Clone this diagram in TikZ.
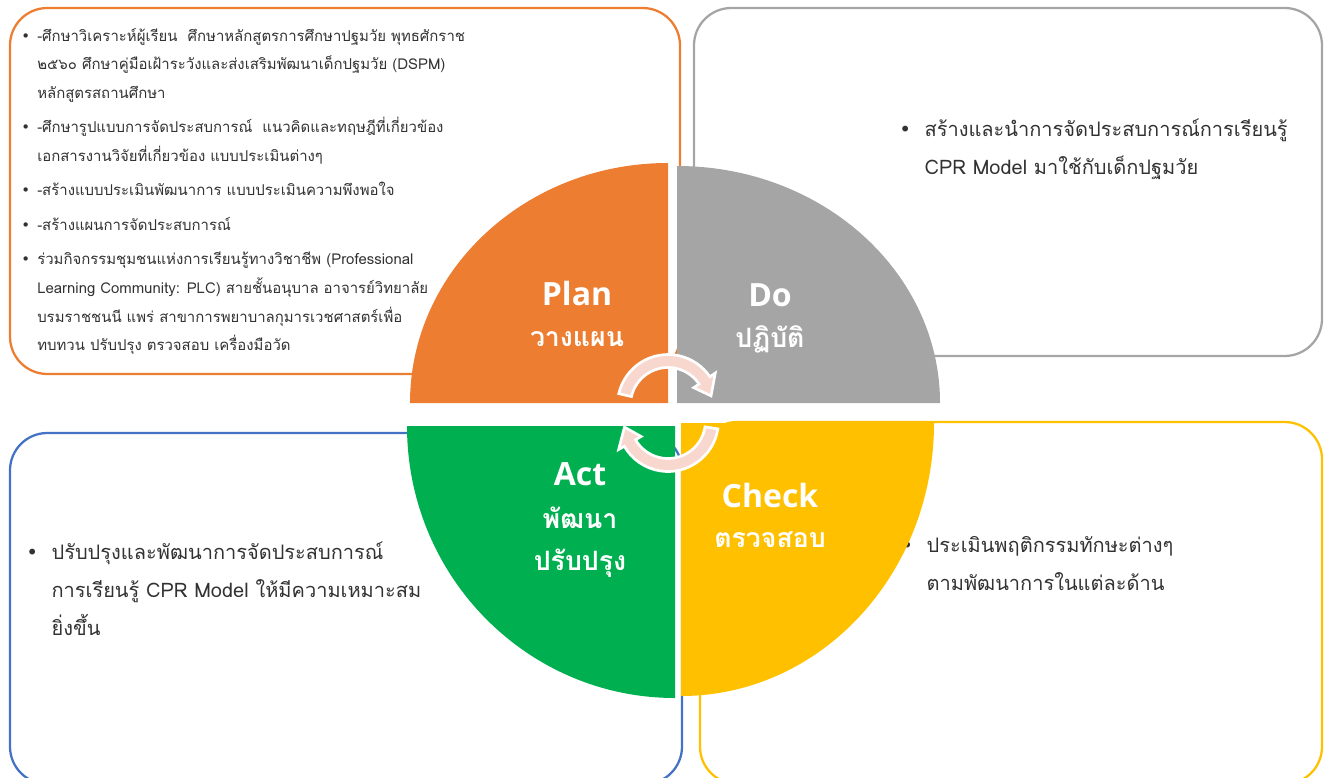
\documentclass[tikz,border=0pt]{standalone}
\usepackage{fontspec}
\usetikzlibrary{calc}
\setmainfont[Script=Thai]{Loma}
\newfontfamily\thaifont[Script=Thai]{Loma}
\newfontfamily\latlab{Open Sans}
\newfontfamily\bulfont{DejaVu Sans}
\definecolor{plancol}{RGB}{237,125,49}
\definecolor{docol}{RGB}{165,165,165}
\definecolor{actcol}{RGB}{0,176,80}
\definecolor{chkcol}{RGB}{255,192,0}
\definecolor{bluecol}{RGB}{68,114,196}
\definecolor{txtcol}{RGB}{50,50,50}
\definecolor{arrowpink}{RGB}{248,216,206}
\newcommand\blt{{\bulfont\char"2022}}
\newcommand\bcol[1]{\makebox[#1][l]{\blt}}
\tikzset{
  box/.style={line width=1.7pt, rounded corners=28pt},
  listtext/.style={anchor=north west, inner sep=0pt, text=txtcol},
  enlab/.style={text=white, font=\latlab\bfseries\fontsize{24}{24}\selectfont, inner sep=0pt},
  thlab/.style={text=white, font=\thaifont\bfseries\fontsize{20}{20}\selectfont, inner sep=0pt},
  cyclearrow/.style={fill=arrowpink, draw=white, line width=2pt, line join=miter},
}
\begin{document}
\begin{tikzpicture}[x=0.75pt,y=-0.75pt]
\useasboundingbox (0,0) rectangle (1328,778);
\clip (0,0) rectangle (1328,778);
% boxes
\draw[box, draw=plancol] (10,8) rectangle (680,374);
\draw[box, draw=docol] (694,8) rectangle (1322,356);
\draw[box, draw=bluecol] (10,433) rectangle (682,784);
\draw[box, draw=chkcol] (700,422) rectangle (1322,784);
% box texts
\node[listtext, font=\fontsize{11.2}{21.4}\selectfont] (plantext) at (21,21) {%
\begin{tabular}{@{}l@{}l@{}}
\bcol{12pt} & -ศึกษาวิเคราะห์ผู้เรียน\ \ ศึกษาหลักสูตรการศึกษาปฐมวัย พุทธศักราช\\
 & ๒๕๖๐ ศึกษาคู่มือเฝ้าระวังและส่งเสริมพัฒนาเด็กปฐมวัย (DSPM)\\
 & หลักสูตรสถานศึกษา\\[4.5pt]
\bcol{12pt} & -ศึกษารูปแบบการจัดประสบการณ์\ \ แนวคิดและทฤษฎีที่เกี่ยวข้อง\\
 & เอกสารงานวิจัยที่เกี่ยวข้อง แบบประเมินต่างๆ\\[4.5pt]
\bcol{12pt} & -สร้างแบบประเมินพัฒนาการ แบบประเมินความพึงพอใจ\\[4.5pt]
\bcol{12pt} & -สร้างแผนการจัดประสบการณ์\\[4.5pt]
\bcol{12pt} & ร่วมกิจกรรมชุมชนแห่งการเรียนรู้ทางวิชาชีพ (Professional\\
 & Learning Community: PLC) สายชั้นอนุบาล อาจารย์วิทยาลัย\\
 & บรมราชชนนี แพร่ สาขาการพยาบาลกุมารเวชศาสตร์เพื่อ\\
 & ทบทวน ปรับปรุง ตรวจสอบ เครื่องมือวัด
\end{tabular}};
\node[listtext, font=\fontsize{15}{28.5}\selectfont] (dotext) at (899,110) {%
\begin{tabular}{@{}l@{}l@{}}
\bcol{19pt} & สร้างและนำการจัดประสบการณ์การเรียนรู้\\
 & CPR Model มาใช้กับเด็กปฐมวัย
\end{tabular}};
\node[listtext, font=\fontsize{15}{28.5}\selectfont] (acttext) at (26,533) {%
\begin{tabular}{@{}l@{}l@{}}
\bcol{19pt} & ปรับปรุงและพัฒนาการจัดประสบการณ์\\
 & การเรียนรู้ CPR Model ให้มีความเหมาะสม\\
 & ยิ่งขึ้น
\end{tabular}};
\node[listtext, font=\fontsize{15}{28.5}\selectfont] (chktext) at (901,526) {%
\begin{tabular}{@{}l@{}l@{}}
\bcol{19pt} & ประเมินพฤติกรรมทักษะต่างๆ\\
 & ตามพัฒนาการในแต่ละด้าน
\end{tabular}};
% quadrants
\fill[plancol] (668,403) -- (410,403) arc[start angle=180,end angle=270,x radius=258,y radius=240] -- cycle;
\fill[docol] (677,403) -- (677,166) arc[start angle=270,end angle=360,x radius=263,y radius=237] -- cycle;
\fill[actcol] (675,426) -- (407,426) arc[start angle=180,end angle=90,x radius=268,y radius=272] -- cycle;
\fill[chkcol] (681,423) -- (681,696) arc[start angle=90,end angle=0,x radius=253,y radius=273] -- cycle;
% cycle arrows
\coordinate (cu) at (668,405);
\coordinate (cl) at (668,421);
\path[cyclearrow] ($(cu)+(193:50.5)$) arc[start angle=193,end angle=326,radius=50.5]
  -- ($(cu)+(326:57)$) -- ($(cu)+(348:44)$) -- ($(cu)+(326:31)$)
  -- ($(cu)+(326:37.5)$) arc[start angle=326,end angle=193,radius=37.5] -- cycle;
\path[cyclearrow] ($(cl)+(9:50.5)$) arc[start angle=9,end angle=150,radius=50.5]
  -- ($(cl)+(150:57)$) -- ($(cl)+(172:44)$) -- ($(cl)+(150:31)$)
  -- ($(cl)+(150:37.5)$) arc[start angle=150,end angle=9,radius=37.5] -- cycle;
% labels
\node[enlab] (plan) at (577,293) {Plan};
\node[thlab] (planth) at (577,339) {วางแผน};
\node[enlab] (do) at (770,295) {Do};
\node[thlab] (doth) at (770,339) {ปฏิบัติ};
\node[enlab] (act) at (580,474) {Act};
\node[thlab] (actth1) at (580,518) {พัฒนา};
\node[thlab] (actth2) at (580,563) {ปรับปรุง};
\node[enlab] (check) at (770,495) {Check};
\node[thlab] (checkth) at (770,540) {ตรวจสอบ};
\end{tikzpicture}
\end{document}
